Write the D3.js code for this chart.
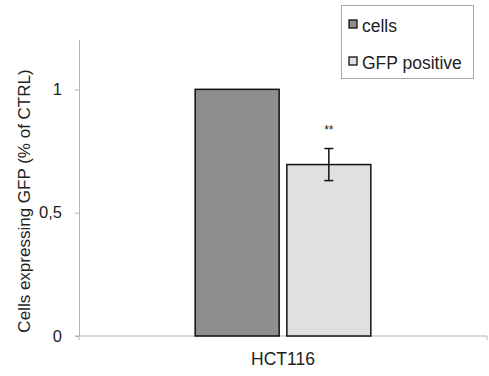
<!DOCTYPE html>
<html>
<head>
<meta charset="utf-8">
<script src="https://cdn.jsdelivr.net/npm/d3@7"></script>
<style>
body { margin: 0; background: #fff; }
text { font-family: "Liberation Sans", Arial, sans-serif; fill: #222; }
</style>
</head>
<body>
<svg id="chart" width="489" height="376"></svg>
<script>
// data
var categories = ['HCT116'];
var seriesNames = ['cells', 'GFP positive'];
var seriesColors = ['#8e8e8e', '#e0e0e0'];
var cellsValues = [1.0];
var gfpValues = [0.695];
var gfpErrors = [0.065];
var gfpSignif = ['**'];
var yTicks = [0, 0.5, 1];
var yTickLabels = ['0', '0,5', '1'];

var svg = d3.select('#chart');

var y = d3.scaleLinear().domain([0, 1.2]).range([336, 40]);
var x0 = d3.scaleBand().domain(categories).range([79, 487]);
var x1 = d3.scaleBand().domain(seriesNames).range([0, x0.bandwidth()]).paddingInner(0.084).paddingOuter(1.267);

// y axis
var yAxis = d3.axisLeft(y).tickValues(yTicks).tickSize(4).tickPadding(13)
	.tickFormat(function(d, i) { return yTickLabels[i]; });
var gy = svg.append('g').attr('transform', 'translate(79,0)').call(yAxis);
gy.select('.domain').attr('stroke', '#b4b4b4').attr('d', 'M-4,336H0.5V40');
gy.selectAll('.tick line').attr('stroke', '#b4b4b4');
gy.selectAll('.tick text').style('font-size', '16.5px').attr('fill', '#222');

// x axis
var gx = svg.append('g').attr('transform', 'translate(0,336)');
gx.append('line').attr('x1', 79).attr('x2', 487).attr('stroke', '#b4b4b4');
gx.selectAll('line.tk').data([79, 487]).enter().append('line')
	.attr('class', 'tk')
	.attr('x1', function(d) { return d; })
	.attr('x2', function(d) { return d; })
	.attr('y1', 0).attr('y2', 4).attr('stroke', '#b4b4b4');
gx.selectAll('text').data(categories).enter().append('text')
	.attr('x', function(d) { return x0(d) + x0.bandwidth()/2; })
	.attr('y', 29)
	.attr('text-anchor', 'middle')
	.style('font-size', '17.5px')
	.text(function(d) { return d; });

// bars
var rows = categories.map(function(c, i) {
	return {cat: c, vals: [cellsValues[i], gfpValues[i]], err: [0, gfpErrors[i]], sig: ['', gfpSignif[i]]};
});
var gBars = svg.append('g');
rows.forEach(function(r) {
	seriesNames.forEach(function(s, j) {
		var bx = x0(r.cat) + x1(s);
		gBars.append('rect')
			.attr('x', bx)
			.attr('y', y(r.vals[j]))
			.attr('width', x1.bandwidth())
			.attr('height', y(0) - y(r.vals[j]))
			.style('fill', seriesColors[j])
			.style('stroke', '#111')
			.style('stroke-width', '1.5px');
		if (r.err[j] > 0) {
			var cx = bx + x1.bandwidth()/2;
			var eb = gBars.append('g').style('stroke', '#111').style('stroke-width', '1.5px');
			eb.append('line').attr('x1', cx).attr('x2', cx)
				.attr('y1', y(r.vals[j] + r.err[j])).attr('y2', y(r.vals[j] - r.err[j]));
			[r.vals[j] + r.err[j], r.vals[j] - r.err[j]].forEach(function(v) {
				eb.append('line').attr('x1', cx - 4.5).attr('x2', cx + 4.5)
					.attr('y1', y(v)).attr('y2', y(v));
			});
		}
		if (r.sig[j]) {
			gBars.append('text')
				.attr('x', bx + x1.bandwidth()/2)
				.attr('y', y(r.vals[j] + r.err[j]) - 15)
				.attr('text-anchor', 'middle')
				.style('font-size', '12px')
				.text(r.sig[j]);
		}
	});
});

// y title
svg.append('text')
	.attr('transform', 'translate(30,201) rotate(-90)')
	.attr('text-anchor', 'middle')
	.style('font-size', '17px')
	.text('Cells expressing GFP (% of CTRL)');

// legend
var lg = svg.append('g');
lg.append('rect').attr('x', 341.5).attr('y', 5.5).attr('width', 132).attr('height', 73)
	.style('fill', '#fff').style('stroke', '#a8a8a8').style('stroke-width', '1px');
seriesNames.forEach(function(s, j) {
	var ly = 20 + j * 37;
	lg.append('rect').attr('x', 349).attr('y', ly).attr('width', 8).attr('height', 8)
		.style('fill', seriesColors[j]).style('stroke', '#111').style('stroke-width', '1.3px');
	lg.append('text').attr('x', 362).attr('y', ly + 11.5)
		.style('font-size', '17.5px').text(s);
});
</script>
</body>
</html>
